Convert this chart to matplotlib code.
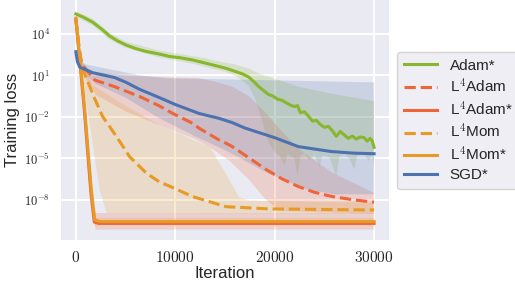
import numpy as np
import matplotlib
matplotlib.use("Agg")
import matplotlib.pyplot as plt
from matplotlib.ticker import FuncFormatter, NullLocator

plt.rcParams['font.family'] = ['Liberation Sans', 'DejaVu Sans']
plt.rcParams['mathtext.fontset'] = 'cm'

# ---------------- data (log10 of training loss) ----------------
labels = ["Adam*", "L$^4$Adam", "L$^4$Adam*", "L$^4$Mom", "L$^4$Mom*", "SGD*"]
colors = ["#88b62c", "#ef6439", "#ef6439", "#e89a26", "#e89a26", "#4c72b0"]
styles = ["-", "--", "-", "--", "-", "-"]

# Adam*
adam_x = [0, 800, 1700, 2600, 3400, 4200, 5000, 6000, 7000, 8400, 9400, 10500, 11750, 13000,
          14000, 15100, 16000, 16800, 17400, 17900, 18400, 18900, 19400, 19800, 20300, 20700,
          21100, 21600, 22000, 22300, 22600, 23000, 23400, 23800, 24200, 24600, 25000, 25400,
          25800, 26200, 26600, 27000, 27400, 27800, 28200, 28600, 29000, 29300, 29600, 29800, 30000]
adam_y = [5.45, 5.2, 4.85, 4.35, 3.85, 3.5, 3.22, 2.95, 2.75, 2.55, 2.38, 2.28, 2.12, 1.9,
          1.72, 1.52, 1.3, 1.1, 0.88, 0.55, 0.19, -0.1, -0.38, -0.48, -0.72, -0.78,
          -0.95, -1.15, -1.25, -1.18, -1.7, -1.62, -1.95, -2.3, -2.25, -2.55, -2.75, -2.68,
          -3.0, -3.4, -3.05, -3.3, -3.55, -3.38, -3.6, -3.45, -3.5, -3.75, -3.55, -3.7, -4.2]
adam_hi_x = [0, 1700, 3400, 5000, 8400, 11750, 13000, 14500, 16000, 17400, 18400, 19400,
             20300, 22300, 25600, 30000]
adam_hi_y = [5.65, 5.1, 4.1, 3.45, 2.8, 2.4, 2.25, 2.0, 1.8, 1.5, 1.15, 0.9, 0.7, 0.2, -0.3, -0.85]
adam_lo_x = [0, 1700, 3400, 5000, 8400, 11750, 15100, 16000, 17000, 17400, 18000, 18400, 19000,
             19400, 20100, 20500, 21000, 21300, 22000, 22300, 22600, 23000, 23500, 24000, 24500,
             24800, 25500, 26200, 26500, 27000, 27500, 28000, 28300, 29000, 29500, 29800, 30000]
adam_lo_y = [5.25, 4.6, 3.6, 3.0, 2.3, 1.85, 1.25, 1.0, 0.5, 0.2, -0.6, -1.5, -3.0,
             -3.9, -4.6, -4.8, -5.5, -4.7, -5.0, -6.3, -4.8, -4.6, -5.2, -4.7, -5.6,
             -4.8, -4.9, -6.3, -4.9, -4.7, -5.0, -5.8, -4.8, -4.7, -5.2, -4.6, -5.8]

# L4Adam
l4adam_x = [0, 300, 600, 1900, 3900, 6500, 8400, 9700, 11750, 12400, 14400, 15100, 15750,
            17500, 19200, 20800, 22400, 24000, 25800, 28000, 30000]
l4adam_y = [5.1, 3.0, 1.8, 0.67, 0.19, -0.55, -1.2, -1.73, -2.46, -2.82, -3.66, -3.9, -4.15,
            -5.0, -5.83, -6.5, -7.04, -7.45, -7.76, -8.0, -8.17]
l4adam_hi_x = [0, 500, 1500, 5000, 10000, 12400, 14000, 15700, 17400, 19100, 20800, 22400,
               25700, 30000]
l4adam_hi_y = [5.3, 2.1, 1.3, 1.0, 0.85, 0.8, 0.55, 0.2, -0.5, -1.7, -3.1, -4.3, -6.0, -7.5]
l4adam_lo_x = [0, 300, 600, 2000, 5000, 8400, 12000, 13500, 15500, 17500, 19000, 20500, 30000]
l4adam_lo_y = [4.9, 2.5, 1.2, -0.4, -1.6, -2.6, -3.6, -4.2, -5.2, -6.6, -7.9, -8.8, -9.0]

# L4Adam*
l4adams_x = [0, 850, 1500, 1850, 2300, 30000]
l4adams_y = [5.05, -1.5, -7.4, -9.6, -9.7, -9.7]
l4adams_hi_x = [0, 1900, 30000]
l4adams_hi_y = [5.25, -8.95, -8.95]
l4adams_lo_x = [0, 1700, 2000, 30000]
l4adams_lo_y = [4.95, -9.2, -10.15, -10.15]

# L4Mom
l4mom_x = [0, 300, 600, 1200, 1800, 2700, 4100, 5400, 7100, 8400, 9400, 11750, 15100,
           19400, 30000]
l4mom_y = [5.1, 3.2, 1.6, 0.55, -0.53, -1.98, -3.43, -4.87, -6.07, -6.7, -7.0, -7.76, -8.49,
           -8.65, -8.73]
l4mom_hi_x = [0, 500, 1700, 5000, 8400, 11000, 13500, 15000, 16400, 17500, 30000]
l4mom_hi_y = [5.3, 2.2, 0.3, -1.2, -2.6, -3.4, -4.2, -6.0, -7.8, -8.05, -8.2]
l4mom_lo_x = [0, 700, 1500, 2400, 3100, 30000]
l4mom_lo_y = [4.9, 0.5, -3.0, -7.3, -8.95, -9.0]

# L4Mom*
l4moms_x = [0, 870, 1550, 1900, 2400, 30000]
l4moms_y = [5.15, -1.3, -7.3, -9.45, -9.57, -9.57]
l4moms_hi_x = [0, 2000, 30000]
l4moms_hi_y = [5.2, -9.3, -9.3]
l4moms_lo_x = [0, 1900, 30000]
l4moms_lo_y = [5.0, -9.85, -9.85]

# SGD*
sgd_x = [0, 150, 400, 1700, 3900, 5060, 6400, 8400, 10000, 12400, 14400, 15700, 17000, 20000,
         22400, 25700, 28000, 30000]
sgd_y = [2.72, 2.0, 1.6, 1.2, 0.85, 0.5, 0.0, -0.6, -1.1, -1.75, -2.1, -2.4, -2.8, -3.5,
         -4.15, -4.5, -4.62, -4.66]
sgd_hi_x = [0, 500, 1000, 3000, 6500, 9000, 15000, 30000]
sgd_hi_y = [2.9, 2.0, 1.8, 1.5, 1.0, 0.8, 0.72, 0.5]
sgd_lo_x = [0, 300, 2000, 5000, 8400, 12000, 15000, 19400, 23000, 26000, 30000]
sgd_lo_y = [2.5, 1.5, 0.4, -0.6, -2.1, -3.4, -4.4, -6.1, -7.2, -7.6, -7.6]

series = [
    (adam_x, adam_y, adam_hi_x, adam_hi_y, adam_lo_x, adam_lo_y),
    (l4adam_x, l4adam_y, l4adam_hi_x, l4adam_hi_y, l4adam_lo_x, l4adam_lo_y),
    (l4adams_x, l4adams_y, l4adams_hi_x, l4adams_hi_y, l4adams_lo_x, l4adams_lo_y),
    (l4mom_x, l4mom_y, l4mom_hi_x, l4mom_hi_y, l4mom_lo_x, l4mom_lo_y),
    (l4moms_x, l4moms_y, l4moms_hi_x, l4moms_hi_y, l4moms_lo_x, l4moms_lo_y),
    (sgd_x, sgd_y, sgd_hi_x, sgd_hi_y, sgd_lo_x, sgd_lo_y),
]

xticks = [0, 10000, 20000, 30000]
yticks_exp = [-8, -5, -2, 1, 4]

# ---------------- figure ----------------
fig = plt.figure(figsize=(5.15, 2.83), dpi=100)
ax = fig.add_axes([0.1184, 0.151, 0.6369, 0.849])
ax.set_facecolor("#EAEAF2")
for s in ax.spines.values():
    s.set_visible(False)
ax.grid(True, color="white", lw=1.4)
ax.set_axisbelow(True)
ax.set_yscale("log")

for (x, y, hx, hy, lx, ly), c in zip(series, colors):
    px = np.concatenate([hx, lx[::-1]])
    py = np.concatenate([np.power(10.0, hy), np.power(10.0, ly[::-1])])
    ax.fill(px, py, color=c, alpha=0.2, lw=0)

for (x, y, *_), c, ls, lab in zip(series, colors, styles, labels):
    ax.plot(x, np.power(10.0, y), color=c, ls=ls, lw=2.2, label=lab)

ax.set_xlim(-1500, 31500)
ax.set_ylim(10 ** -10.92, 10 ** 6.46)
ax.set_xticks(xticks)
ax.set_yticks([10.0 ** e for e in yticks_exp])
ax.yaxis.set_minor_locator(NullLocator())
ax.xaxis.set_major_formatter(FuncFormatter(lambda v, p: r"$%d$" % v))
ax.yaxis.set_major_formatter(FuncFormatter(lambda v, p: r"$10^{%d}$" % round(np.log10(v))))
ax.tick_params(axis="x", length=0, pad=7, labelsize=11, labelcolor="#262626")
ax.tick_params(axis="y", length=0, pad=8, labelsize=9, labelcolor="#262626")
ax.set_xlabel("Iteration", fontsize=12, color="#262626", labelpad=1)
ax.set_ylabel("Training loss", fontsize=12, color="#262626", labelpad=3)

leg = ax.legend(loc="upper left", bbox_to_anchor=(1.024, 0.784), borderaxespad=0,
                fontsize=11, frameon=True, facecolor="#EAEAF2", edgecolor="#cccccc",
                handlelength=2.2, labelspacing=0.3, borderpad=0.45)
for t in leg.get_texts():
    t.set_color("#262626")

fig.savefig("out.png", dpi=100)
